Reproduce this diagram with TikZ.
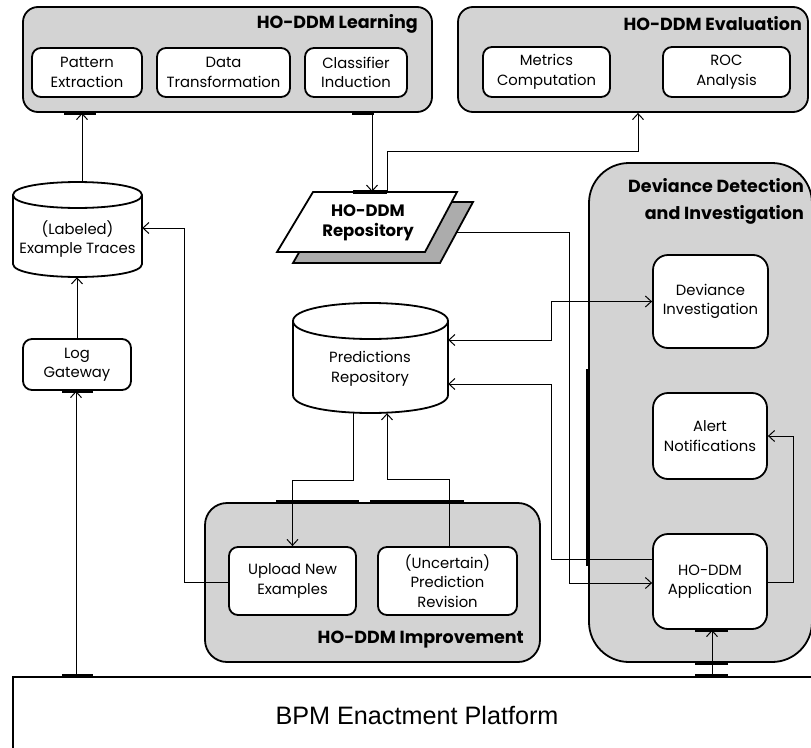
\documentclass[tikz,border=0pt]{standalone}
\usepackage{fontspec}
\setmainfont{Poppins}
\setsansfont{Liberation Sans}
\usetikzlibrary{arrows.meta}
\definecolor{grpfill}{RGB}{211,211,211}
\definecolor{shadowgray}{RGB}{172,172,172}
\tikzset{
  grp/.style={draw, line width=1.8pt, fill=grpfill, rounded corners=15pt, inner sep=0pt},
  box/.style={draw, line width=1.8pt, fill=white, rounded corners=9pt, align=center, inner sep=1pt,
    font=\fontsize{14.8}{19.5}\selectfont},
  grplbl/.style={inner sep=0pt, align=right, font=\fontsize{17.5}{27}\selectfont\bfseries},
  ghost/.style={inner sep=0pt, draw=none},
  cyltxt/.style={inner sep=0pt, align=center, font=\fontsize{14.8}{19.5}\selectfont},
  conn/.style={line width=1pt, -{Straight Barb[length=6pt,width=11pt,line width=1pt]}},
  conntwo/.style={line width=1pt, {Straight Barb[length=6pt,width=11pt,line width=1pt]}-{Straight Barb[length=6pt,width=11pt,line width=1pt]}},
  cpm/.style={line width=3.8pt},
  shape outline/.style={draw, line width=1.8pt}
}
\begin{document}
\begin{tikzpicture}[x=1pt,y=-1pt]
\useasboundingbox (0,0) rectangle (811,747);

% ---- platform
\node[ghost, draw, line width=1.8pt, minimum width=830pt, minimum height=120pt] (bpm) at (428,737) {};
\node[inner sep=0pt, font=\sffamily\fontsize{25.2}{28}\selectfont] (bpmtxt) at (417,715) {BPM Enactment Platform};

% ---- groups
\node[grp, minimum width=409pt, minimum height=105pt] (learn) at (227.5,59.5) {};
\node[grplbl, anchor=east] (learnlbl) at (418,24) {HO-DDM Learning};
\node[grp, minimum width=350pt, minimum height=105pt] (eval) at (633,59.5) {};
\node[grplbl, anchor=east] (evallbl) at (802,24) {HO-DDM Evaluation};
\node[grp, rounded corners=22pt, minimum width=335pt, minimum height=159pt] (imp) at (372.5,582.5) {};
\node[grplbl, anchor=east] (implbl) at (524,640) {HO-DDM Improvement};
\node[grp, rounded corners=40pt, minimum width=223pt, minimum height=499pt] (dev) at (700.5,412.5) {};
\node[grplbl, anchor=north east] (devlbl) at (804,178) {Deviance Detection\\and Investigation};

% ---- cylinders
\path[shape outline, fill=white] (13,195) -- (13,264) .. controls (13,281.3) and (142,281.3) .. (142,264)
  -- (142,195) .. controls (142,177.7) and (13,177.7) .. (13,195) -- cycle;
\draw[line width=1.8pt] (13,195) .. controls (13,212.3) and (142,212.3) .. (142,195);
\node[ghost, minimum width=129pt, minimum height=95pt] (ex) at (77.5,229.5) {};
\node[cyltxt] (extxt) at (77.5,239) {(Labeled)\\Example Traces};

\path[shape outline, fill=white] (293,321) -- (293,395) .. controls (293,419) and (448,419) .. (448,395)
  -- (448,321) .. controls (448,297) and (293,297) .. (293,321) -- cycle;
\draw[line width=1.8pt] (293,321) .. controls (293,345) and (448,345) .. (448,321);
\node[ghost, minimum width=155pt, minimum height=110pt] (pred) at (370.5,358) {};
\node[cyltxt] (predtxt) at (370,369) {Predictions\\Repository};

% ---- repository (parallelogram with shadow)
\path[shape outline, fill=shadowgray] (328,202) -- (473,202) -- (440,263) -- (293,263) -- cycle;
\path[shape outline, fill=white] (313,192) -- (457,192) -- (425,252) -- (277,252) -- cycle;
\node[ghost, minimum width=180pt, minimum height=60pt] (repo) at (367,222) {};
\node[inner sep=0pt, align=center, font=\fontsize{16.5}{20}\selectfont\bfseries] (repotxt) at (368,223) {HO-DDM\\Repository};

% ---- inner boxes
\node[box, minimum width=110pt, minimum height=49pt] (pe) at (87,72.5) {Pattern\\Extraction};
\node[box, minimum width=133pt, minimum height=49pt] (dt) at (223.5,72.5) {Data\\Transformation};
\node[box, minimum width=102pt, minimum height=49pt] (ci) at (356,72.5) {Classifier\\Induction};
\node[box, minimum width=127pt, minimum height=50pt] (mc) at (546.5,72) {Metrics\\Computation};
\node[box, minimum width=127pt, minimum height=50pt] (roc) at (726.5,72) {ROC\\Analysis};
\node[box, minimum width=108pt, minimum height=51pt] (lg) at (77,364.5) {Log\\Gateway};
\node[box, minimum width=127pt, minimum height=68pt] (up) at (292.5,581) {Upload New\\Examples};
\node[box, minimum width=139pt, minimum height=68pt] (rev) at (447.5,581) {(Uncertain)\\Prediction\\Revision};
\node[box, rounded corners=15pt, minimum width=115pt, minimum height=93pt] (di) at (710.5,301.5) {Deviance\\Investigation};
\node[box, rounded corners=15pt, minimum width=114pt, minimum height=86pt] (an) at (710,436) {Alert\\Notifications};
\node[box, rounded corners=15pt, minimum width=114pt, minimum height=95pt] (app) at (710,581.5) {HO-DDM\\Application};

% ---- connectors
\draw[conn] ([xshift=4.5pt]ex.north) -- ([xshift=4.5pt]ex.north |- learn.south);
\draw[conn] ([xshift=16pt]ci.south |- learn.south) -- ([xshift=16pt]ci.south |- repo.north);
\draw[conn] ([xshift=20pt]repo.north) -- ++(0,-40) -| ([xshift=5pt]eval.south);
\draw[conn] (lg.north) -- (lg.north |- ex.south);
\draw[conn] ([xshift=-1pt]lg.south |- bpm.north) -- ([xshift=-1pt]lg.south);
\draw[conn] ([yshift=-1pt]up.west) -- ++(-44,0) |- ([yshift=1.5pt]ex.east);
\draw[conn] ([xshift=-17.5pt]pred.south) -- ++(0,67) -| (up.north);
\draw[conn] ([xshift=1.5pt]rev.north) -- ++(0,-67) -| ([xshift=16.5pt]pred.south);
\draw[conntwo] (di.west) -- ++(-101,0) |- ([yshift=18pt]pred.east);
\draw[conn] ([yshift=22.5pt]app.west) -- ++(-101,0) |- ([yshift=-26pt]pred.east);
\draw[conn] ([yshift=-10pt]repo.east) -- ++(112,0) |- ([yshift=-1.5pt]app.west);
\draw[conn] ([yshift=-0.5pt]app.east) -- ++(26,0) |- (an.east);
\draw[conn] ([xshift=2pt]app.south |- bpm.north) -- ([xshift=2pt]app.south);

% ---- connection markers
\draw[cpm] ([xshift=42pt]learn.south west) -- ([xshift=74pt]learn.south west);
\draw[cpm] ([xshift=330pt]learn.south west) -- ([xshift=352pt]learn.south west);
\draw[cpm] ([xshift=-14pt]repo.north) -- ([xshift=20pt]repo.north);
\draw[cpm] ([xshift=-15pt]lg.south) -- ([xshift=16pt]lg.south);
\draw[cpm] ([xshift=-15pt]lg.south |- bpm.north) -- ([xshift=16pt]lg.south |- bpm.north);
\draw[cpm] ([xshift=72pt]imp.north west) -- ([xshift=155pt]imp.north west);
\draw[cpm] ([xshift=166pt]imp.north west) -- ([xshift=260pt]imp.north west);
\draw[cpm] ([yshift=-207pt]dev.north west) -- ([yshift=-404pt]dev.north west);
\draw[cpm] ([xshift=-15pt]app.south) -- ([xshift=18pt]app.south);
\draw[cpm] ([xshift=-15pt]app.south |- dev.south) -- ([xshift=18pt]app.south |- dev.south);
\draw[cpm] ([xshift=-15pt]app.south |- bpm.north) -- ([xshift=18pt]app.south |- bpm.north);
\end{tikzpicture}
\end{document}
